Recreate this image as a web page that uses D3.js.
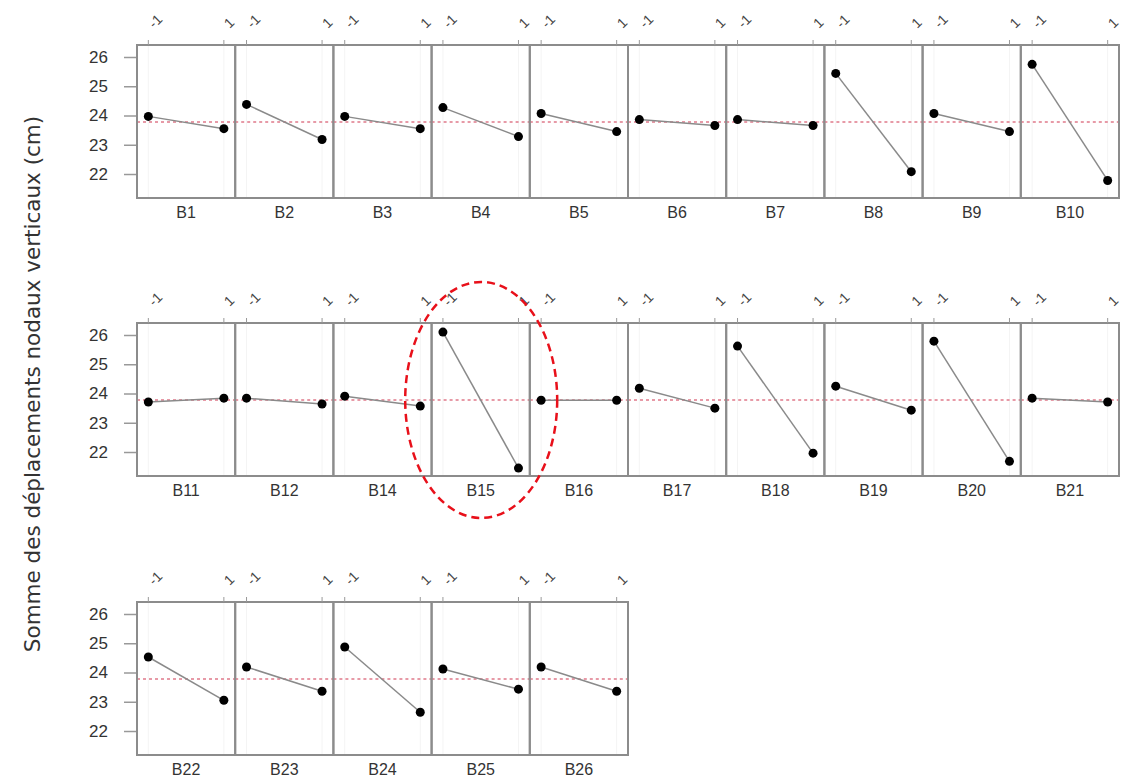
<!DOCTYPE html>
<html>
<head>
<meta charset="utf-8">
<script src="https://cdn.jsdelivr.net/npm/d3@7"></script>
<style>
	body { margin: 0; background: #fff; }
	text { font-family: "Liberation Sans", Arial, sans-serif; }
	text.title { font-family: "DejaVu Sans", sans-serif; }
</style>
</head>
<body>
<div id="graph"></div>
<script>
// panel names, in drawing order (10 per row)
const panels = ["B1", "B2", "B3", "B4", "B5", "B6", "B7", "B8", "B9", "B10",
	"B11", "B12", "B14", "B15", "B16", "B17", "B18", "B19", "B20", "B21",
	"B22", "B23", "B24", "B25", "B26"];

// mean response at level -1 and at level 1
const valuesLow = [23.97, 24.38, 23.97, 24.27, 24.07, 23.86, 23.86, 25.44, 24.07, 25.75,
	23.71, 23.84, 23.91, 26.10, 23.77, 24.18, 25.62, 24.25, 25.79, 23.84,
	24.53, 24.19, 24.87, 24.12, 24.19];
const valuesHigh = [23.55, 23.18, 23.55, 23.28, 23.45, 23.66, 23.66, 22.08, 23.45, 21.78,
	23.84, 23.64, 23.57, 21.45, 23.77, 23.50, 21.96, 23.43, 21.68, 23.71,
	23.05, 23.36, 22.64, 23.43, 23.36];

const levels = [-1, 1],
	levelLabels = ["-1", "1"],
	yTicks = [22, 23, 24, 25, 26],
	grandMean = 23.78,
	highlighted = "B15",
	yTitle = "Somme des déplacements nodaux verticaux (cm)";

const params = {
		width: 1124,
		height: 777,
		left: 137,
		panel_w: 98.2,
		panel_h: 153,
		row_tops: [45, 323, 602],
		per_row: 10
	},
	root_graph = d3.select('#graph');

const svg = root_graph.append("svg")
	.attr("width", params.width)
	.attr("height", params.height);

// scalers shared by every panel
const x = d3.scaleLinear().domain([-1.3, 1.3]).range([0, params.panel_w]),
	y = d3.scaleLinear().domain([21.18, 26.41]).range([params.panel_h, 0]);

const data = panels.map((name, i) => ({
	name: name,
	row: Math.floor(i / params.per_row),
	col: i % params.per_row,
	values: [valuesLow[i], valuesHigh[i]]
}));

const nRows = params.row_tops.length;

// y axis on the left of every row
for (let r = 0; r < nRows; r++) {
	const g = svg.append("g")
		.attr("transform", `translate(${params.left} ${params.row_tops[r]})`);
	g.call(d3.axisLeft(y).tickValues(yTicks).tickSize(13).tickPadding(16).tickFormat(d3.format("d")))
		.call(a => a.select(".domain").remove());
	g.selectAll(".tick line").attr("stroke", "#999").attr("stroke-width", 1.5);
	g.selectAll(".tick text").attr("fill", "#333").attr("font-size", 17);
}

// one group per panel
const panel = svg.selectAll("g.panel")
	.data(data)
	.join("g")
	.attr("class", "panel")
	.attr("transform", d => `translate(${params.left + d.col * params.panel_w} ${params.row_tops[d.row]})`);

// faint grid at each level
panel.selectAll("line.grid")
	.data(levels)
	.join("line")
	.attr("class", "grid")
	.attr("x1", d => x(d)).attr("x2", d => x(d))
	.attr("y1", 0).attr("y2", params.panel_h)
	.attr("stroke", "#f4f4f4");

// grand mean, dashed
panel.append("line")
	.attr("x1", 0).attr("x2", params.panel_w)
	.attr("y1", y(grandMean)).attr("y2", y(grandMean))
	.attr("stroke", "#e07a8a")
	.attr("stroke-width", 1.5)
	.attr("stroke-dasharray", "3,3");

// connecting line
panel.append("path")
	.attr("d", d => d3.line().x((v, i) => x(levels[i])).y(v => y(v))(d.values))
	.attr("fill", "none")
	.attr("stroke", "#8a8a8a")
	.attr("stroke-width", 1.5);

panel.selectAll("circle")
	.data(d => d.values.map((v, i) => ({ lvl: levels[i], v: v })))
	.join("circle")
	.attr("cx", d => x(d.lvl))
	.attr("cy", d => y(d.v))
	.attr("r", 4.5)
	.attr("fill", "#000");

// frame
panel.append("rect")
	.attr("width", params.panel_w)
	.attr("height", params.panel_h)
	.attr("fill", "none")
	.attr("stroke", "#8c8c8c")
	.attr("stroke-width", 2);

// top ticks and rotated labels
panel.selectAll("line.top")
	.data(levels)
	.join("line")
	.attr("class", "top")
	.attr("x1", d => x(d)).attr("x2", d => x(d))
	.attr("y1", -5).attr("y2", 0)
	.attr("stroke", "#999");

panel.selectAll("text.top")
	.data(levels)
	.join("text")
	.attr("class", "top")
	.attr("transform", d => `translate(${x(d) + 6} -16) rotate(-45)`)
	.attr("font-size", 14)
	.attr("fill", "#444")
	.text((d, i) => levelLabels[i]);

// panel name below
panel.append("text")
	.attr("x", params.panel_w / 2)
	.attr("y", params.panel_h + 20)
	.attr("text-anchor", "middle")
	.attr("font-size", 16)
	.attr("fill", "#333")
	.text(d => d.name);

// y title
svg.append("text")
	.attr("class", "title")
	.attr("transform", `translate(40 384) rotate(-90)`)
	.attr("text-anchor", "middle")
	.attr("font-size", 21.5)
	.attr("fill", "#333")
	.text(yTitle);

// highlight ellipse round the outlier panel
const hi = data.find(d => d.name === highlighted);
svg.append("ellipse")
	.attr("cx", params.left + hi.col * params.panel_w + params.panel_w / 2 + 0.5)
	.attr("cy", params.row_tops[hi.row] + y(grandMean))
	.attr("rx", 76)
	.attr("ry", 118)
	.attr("fill", "none")
	.attr("stroke", "#e8101a")
	.attr("stroke-width", 2.5)
	.attr("stroke-dasharray", "8,5");
</script>
</body>
</html>
